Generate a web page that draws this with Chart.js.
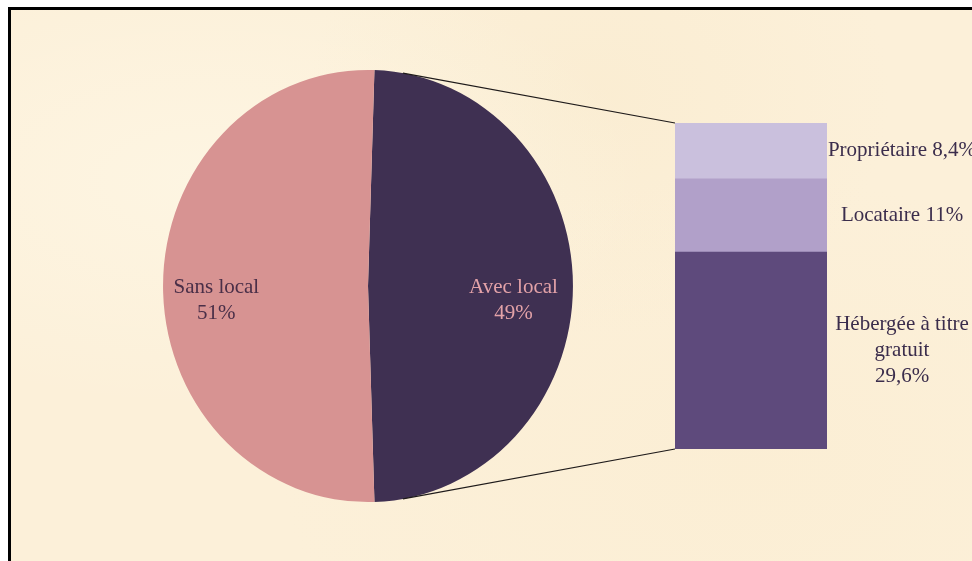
<!DOCTYPE html>
<html>
<head>
<meta charset="utf-8">
<script src="https://cdn.jsdelivr.net/npm/chart.js@4.4.1/dist/chart.umd.min.js"></script>
<style>
  html, body { margin: 0; padding: 0; background: #ffffff; overflow: hidden; }
  #frame {
    position: absolute; left: 8px; top: 7px; width: 980px; height: 570px;
    border-top: 3px solid #000; border-left: 3px solid #000;
    background: #fcf0d9;
    background-image:
      radial-gradient(ellipse at 20% 30%, rgba(255,250,235,0.5), rgba(255,250,235,0) 40%),
      radial-gradient(ellipse at 75% 80%, rgba(250,235,205,0.4), rgba(250,235,205,0) 45%),
      radial-gradient(ellipse at 60% 15%, rgba(248,232,200,0.4), rgba(248,232,200,0) 35%);
  }
  canvas { position: absolute; left: 0; top: 0; }
</style>
</head>
<body>
<div id="frame"></div>
<canvas id="pieChart" width="972" height="561"></canvas>
<canvas id="barChart" width="972" height="561"></canvas>
<script>
// pie : avec / sans local
const pieLabels = ["Avec local", "Sans local"];
const pieValues = [49, 51];
const pieText = [["Avec local", "49%"], ["Sans local", "51%"]];
const pieColors = ["#3f3052", "#d79392"];
const pieTextColors = ["#e3a2a8", "#4a2f48"];

// bar : detail of "Avec local" (bottom to top)
const barLabels = ["Hébergée à titre gratuit", "Locataire", "Propriétaire"];
const barValues = [29.6, 11, 8.4];
const barText = [["Hébergée à titre", "gratuit", "29,6%"], ["Locataire 11%"], ["Propriétaire 8,4%"]];
const barColors = ["#5e4a7c", "#b1a0c9", "#cac0dd"];

const FONT = "21px 'Liberation Serif', 'Times New Roman', serif";
const SX = 0.976, SY = 1.029; // the original pie is a little taller than wide

// slight ellipse
const squashPlugin = {
  id: "squash",
  beforeDatasetsDraw(chart) {
    const arc = chart.getDatasetMeta(0).data[0];
    const ctx = chart.ctx;
    ctx.save();
    ctx.translate(arc.x, arc.y);
    ctx.scale(SX, SY);
    ctx.translate(-arc.x, -arc.y);
  },
  afterDatasetsDraw(chart) {
    chart.ctx.restore();
  }
};

const pieLabelPlugin = {
  id: "pieLabels",
  afterDraw(chart) {
    const ctx = chart.ctx;
    ctx.save();
    ctx.font = FONT;
    ctx.textAlign = "center";
    ctx.textBaseline = "middle";
    chart.getDatasetMeta(0).data.forEach(function(arc, i) {
      const mid = (arc.startAngle + arc.endAngle) / 2;
      const r = arc.outerRadius * (i == 0 ? 0.71 : 0.74);
      const x = arc.x + Math.cos(mid) * r * SX;
      const y = arc.y + Math.sin(mid) * r * SY + 14;
      ctx.fillStyle = pieTextColors[i];
      const lines = pieText[i];
      lines.forEach(function(t, j) {
        ctx.fillText(t, x, y + (j - (lines.length - 1) / 2) * 26);
      });
    });
    ctx.restore();
  }
};

const pieChart = new Chart("pieChart", {
  type: "pie",
  data: {
    labels: pieLabels,
    datasets: [{
      data: pieValues,
      backgroundColor: pieColors,
      borderWidth: 0
    }]
  },
  options: {
    responsive: false,
    animation: false,
    rotation: 1.8,
    layout: { padding: { left: 158, right: 394, top: 76, bottom: 65 } },
    plugins: { legend: { display: false }, tooltip: { enabled: false } }
  },
  plugins: [squashPlugin, pieLabelPlugin]
});

// connector lines + bar labels
const barExtras = {
  id: "barExtras",
  afterDatasetsDraw(chart) {
    const ctx = chart.ctx;
    const arc = pieChart.getDatasetMeta(0).data[0];
    const topBar = chart.getDatasetMeta(barValues.length - 1).data[0];
    const bottomBar = chart.getDatasetMeta(0).data[0];
    const left = topBar.x - topBar.width / 2;
    const off = 0.14;
    const a1 = arc.startAngle + off, a2 = arc.endAngle - off;
    ctx.save();
    ctx.strokeStyle = "#1e1a1a";
    ctx.lineWidth = 1.2;
    ctx.beginPath();
    ctx.moveTo(arc.x + Math.cos(a1) * arc.outerRadius * SX, arc.y + Math.sin(a1) * arc.outerRadius * SY);
    ctx.lineTo(left, topBar.y);
    ctx.moveTo(arc.x + Math.cos(a2) * arc.outerRadius * SX, arc.y + Math.sin(a2) * arc.outerRadius * SY);
    ctx.lineTo(left, bottomBar.base);
    ctx.stroke();

    ctx.font = FONT;
    ctx.fillStyle = "#3b2d4c";
    ctx.textAlign = "center";
    ctx.textBaseline = "middle";
    barValues.forEach(function(v, i) {
      const bar = chart.getDatasetMeta(i).data[0];
      const cy = (bar.y + bar.base) / 2;
      const cx = bar.x + bar.width / 2 + 75;
      const lines = barText[i];
      lines.forEach(function(t, j) {
        ctx.fillText(t, cx, cy + (j - (lines.length - 1) / 2) * 26);
      });
    });
    ctx.restore();
  }
};

new Chart("barChart", {
  type: "bar",
  data: {
    labels: ["Avec local"],
    datasets: barValues.map(function(v, i) {
      return {
        label: barLabels[i],
        data: [v],
        backgroundColor: barColors[i],
        borderWidth: 0,
        barPercentage: 1,
        categoryPercentage: 1
      };
    })
  },
  options: {
    responsive: false,
    animation: false,
    layout: { padding: { left: 675, right: 145, top: 123, bottom: 112 } },
    scales: {
      x: { stacked: true, display: false },
      y: { stacked: true, display: false, min: 0, max: 49 }
    },
    plugins: { legend: { display: false }, tooltip: { enabled: false } }
  },
  plugins: [barExtras]
});
</script>
</body>
</html>
